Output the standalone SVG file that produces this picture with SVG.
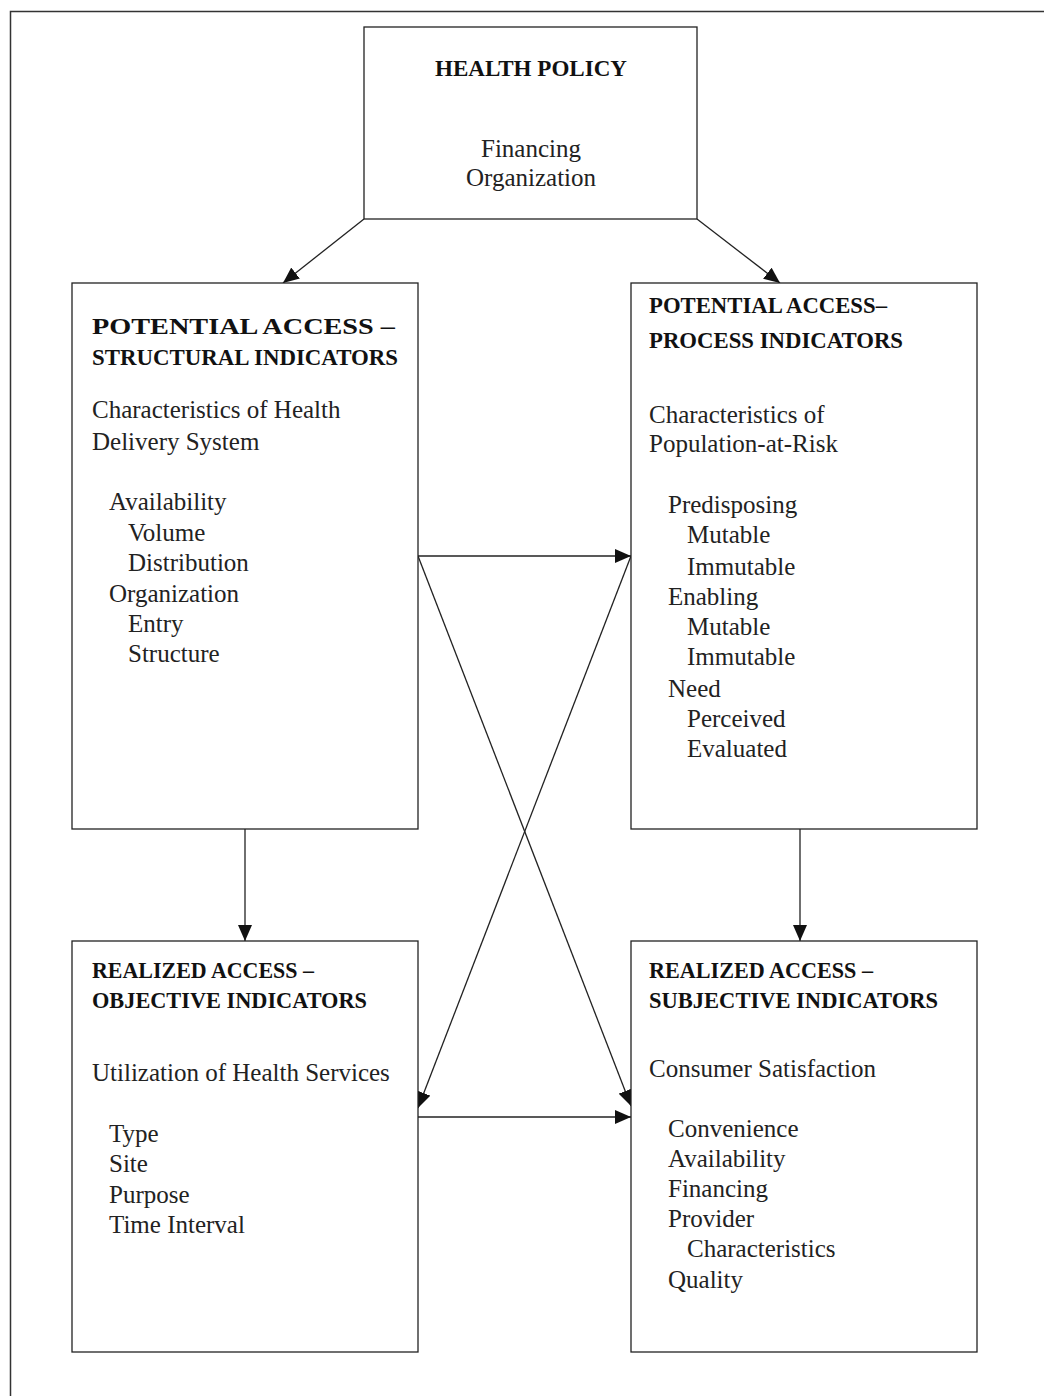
<svg xmlns="http://www.w3.org/2000/svg" width="1044" height="1396" viewBox="0 0 1044 1396">
<style>
.box{fill:#fff;stroke:#222;stroke-width:1.3}
.frame{fill:none;stroke:#333;stroke-width:1.5}
.h{font-family:"Liberation Serif",serif;font-weight:bold;font-size:23px;fill:#111}
.t{font-family:"Liberation Serif",serif;font-size:25px;fill:#222}
.c{stroke:#222;stroke-width:1.3;fill:none;marker-end:url(#ah)}
</style>
<defs>
<marker id="ah" markerUnits="userSpaceOnUse" markerWidth="18" markerHeight="14" refX="16" refY="7" orient="auto">
<path d="M0,0 L16,7 L0,14 z" fill="#111"/>
</marker>
</defs>
<rect width="1044" height="1396" fill="#fff"/>
<path class="frame" d="M1050,11.5 H10.5 V1400"/>

<g id="connectors">
<line class="c" x1="364" y1="219" x2="283" y2="283"/>
<line class="c" x1="697" y1="219" x2="780" y2="283"/>
<line class="c" x1="418" y1="556" x2="631" y2="556"/>
<line class="c" x1="418" y1="556" x2="631" y2="1106"/>
<line class="c" x1="631" y1="556" x2="418" y2="1108"/>
<line class="c" x1="418" y1="1117" x2="631" y2="1117"/>
<line class="c" x1="245" y1="829" x2="245" y2="941"/>
<line class="c" x1="800" y1="829" x2="800" y2="941"/>
</g>

<g id="health-policy">
<rect class="box" x="364" y="27" width="333" height="192"/>
<text class="h" x="531" y="76" text-anchor="middle" textLength="192" lengthAdjust="spacingAndGlyphs" style="font-size:24px">HEALTH POLICY</text>
<text class="t" x="531" y="157" text-anchor="middle">Financing</text>
<text class="t" x="531" y="186" text-anchor="middle">Organization</text>
</g>

<g id="potential-structural">
<rect class="box" x="72" y="283" width="346" height="546"/>
<text class="h" x="92" y="334" textLength="303" lengthAdjust="spacingAndGlyphs">POTENTIAL ACCESS –</text>
<text class="h" x="92" y="365" textLength="306" lengthAdjust="spacingAndGlyphs">STRUCTURAL INDICATORS</text>
<text class="t" x="92" y="418">Characteristics of Health</text>
<text class="t" x="92" y="450">Delivery System</text>
<text class="t" x="109" y="510">Availability</text>
<text class="t" x="128" y="541">Volume</text>
<text class="t" x="128" y="571">Distribution</text>
<text class="t" x="109" y="602">Organization</text>
<text class="t" x="128" y="632">Entry</text>
<text class="t" x="128" y="662">Structure</text>
</g>

<g id="potential-process">
<rect class="box" x="631" y="283" width="346" height="546"/>
<text class="h" x="649" y="313" textLength="238" lengthAdjust="spacingAndGlyphs">POTENTIAL ACCESS–</text>
<text class="h" x="649" y="348" textLength="254" lengthAdjust="spacingAndGlyphs">PROCESS INDICATORS</text>
<text class="t" x="649" y="423">Characteristics of</text>
<text class="t" x="649" y="452">Population-at-Risk</text>
<text class="t" x="668" y="513">Predisposing</text>
<text class="t" x="687" y="543">Mutable</text>
<text class="t" x="687" y="575">Immutable</text>
<text class="t" x="668" y="605">Enabling</text>
<text class="t" x="687" y="635">Mutable</text>
<text class="t" x="687" y="665">Immutable</text>
<text class="t" x="668" y="697">Need</text>
<text class="t" x="687" y="727">Perceived</text>
<text class="t" x="687" y="757">Evaluated</text>
</g>

<g id="realized-objective">
<rect class="box" x="72" y="941" width="346" height="411"/>
<text class="h" x="92" y="978" textLength="222" lengthAdjust="spacingAndGlyphs">REALIZED ACCESS –</text>
<text class="h" x="92" y="1008" textLength="275" lengthAdjust="spacingAndGlyphs">OBJECTIVE INDICATORS</text>
<text class="t" x="92" y="1081">Utilization of Health Services</text>
<text class="t" x="109" y="1142">Type</text>
<text class="t" x="109" y="1172">Site</text>
<text class="t" x="109" y="1203">Purpose</text>
<text class="t" x="109" y="1233">Time Interval</text>
</g>

<g id="realized-subjective">
<rect class="box" x="631" y="941" width="346" height="411"/>
<text class="h" x="649" y="978" textLength="224" lengthAdjust="spacingAndGlyphs">REALIZED ACCESS –</text>
<text class="h" x="649" y="1008" textLength="289" lengthAdjust="spacingAndGlyphs">SUBJECTIVE INDICATORS</text>
<text class="t" x="649" y="1077">Consumer Satisfaction</text>
<text class="t" x="668" y="1137">Convenience</text>
<text class="t" x="668" y="1167">Availability</text>
<text class="t" x="668" y="1197">Financing</text>
<text class="t" x="668" y="1227">Provider</text>
<text class="t" x="687" y="1257">Characteristics</text>
<text class="t" x="668" y="1288">Quality</text>
</g>
</svg>
